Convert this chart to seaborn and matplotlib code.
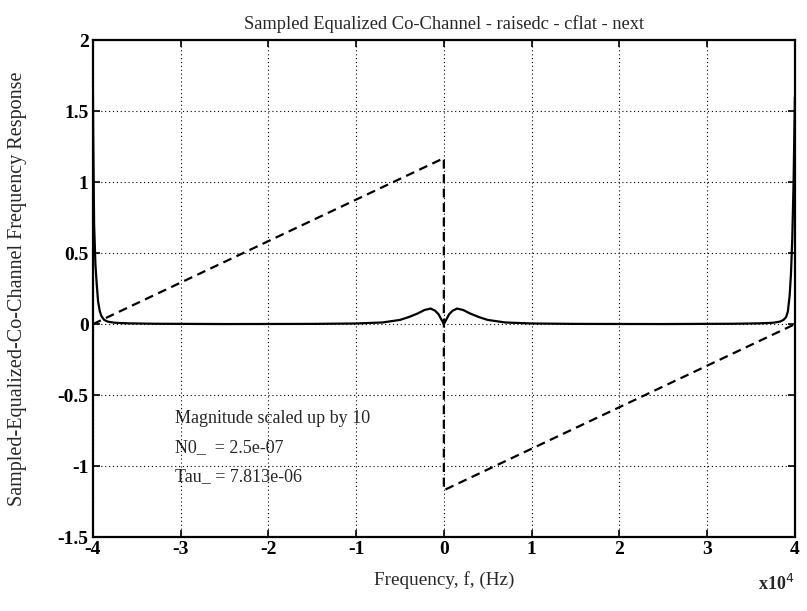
import numpy as np
import pandas as pd
import matplotlib
matplotlib.use("Agg")
import matplotlib.pyplot as plt
import seaborn as sns

# ---- data (frequency in units of 1e4 Hz) ----
mag_freq = [-4.0, -3.995, -3.985, -3.97, -3.955, -3.94, -3.92, -3.9, -3.87, -3.83,
            -3.75, -3.6, -3.3, -2.5, -1.5, -1.0, -0.7, -0.5, -0.4, -0.3, -0.22,
            -0.15, -0.1, -0.06, -0.03, 0.0, 0.03, 0.06, 0.1, 0.15, 0.22, 0.3, 0.4,
            0.5, 0.7, 1.0, 1.5, 2.5, 3.3, 3.6, 3.75, 3.83, 3.87, 3.9, 3.92, 3.94,
            3.955, 3.97, 3.985, 3.995, 4.0]
mag_vals = [1.75, 1.3, 0.7, 0.42, 0.28, 0.16, 0.09, 0.055, 0.03, 0.018,
            0.01, 0.006, 0.003, 0.001, 0.002, 0.005, 0.012, 0.03, 0.05, 0.075, 0.1,
            0.11, 0.095, 0.07, 0.035, 0.0, 0.035, 0.07, 0.095, 0.11, 0.1, 0.075, 0.05,
            0.03, 0.012, 0.005, 0.002, 0.001, 0.003, 0.006, 0.01, 0.018, 0.03, 0.05,
            0.09, 0.2, 0.35, 0.6, 1.0, 1.4, 1.6]
phase_freq = [-4.0, 0.0, 0.0, 4.0]
phase_vals = [0.0, 1.17, -1.17, 0.0]

x_ticks = [-4, -3, -2, -1, 0, 1, 2, 3, 4]
y_ticks = [-1.5, -1, -0.5, 0, 0.5, 1, 1.5, 2]
y_tick_labels = ["-1.5", "-1", "-0.5", "0", "0.5", "1", "1.5", "2"]

title = "Sampled Equalized Co-Channel - raisedc - cflat - next"
xlabel = "Frequency, f, (Hz)"
ylabel = "Sampled-Equalized-Co-Channel Frequency Response"
notes = ["Magnitude scaled up by 10", "N0_  = 2.5e-07", "Tau_ = 7.813e-06"]

sns.set_theme(style="white")
plt.rcParams['font.family'] = ['Liberation Serif', 'DejaVu Serif']

fig = plt.figure(figsize=(8.07, 6.11), dpi=100)
ax = fig.add_axes([0.115, 0.121, 0.870, 0.813])

mag_df = pd.DataFrame({"f": mag_freq, "m": mag_vals})
ph_df = pd.DataFrame({"f": phase_freq, "p": phase_vals})

sns.lineplot(data=mag_df, x="f", y="m", sort=False, estimator=None, ax=ax,
             color="black", linewidth=1.6)
sns.lineplot(data=ph_df, x="f", y="p", sort=False, estimator=None, ax=ax,
             color="black", linewidth=1.6, linestyle=(0, (4, 2.5)))

ax.set_xlim(-4, 4)
ax.set_ylim(-1.5, 2)
ax.set_xticks(x_ticks)
ax.set_xticklabels([str(t) for t in x_ticks])
ax.set_yticks(y_ticks)
ax.set_yticklabels(y_tick_labels)
ax.grid(True, color="black", linestyle=(0, (1, 2.5)), linewidth=0.8)
ax.tick_params(direction="in", length=5, width=1.2, top=True, right=True,
               bottom=True, left=True, labelsize=14, pad=3, colors="black")
for lab in ax.get_xticklabels() + ax.get_yticklabels():
    lab.set_fontweight("bold")
for s in ax.spines.values():
    s.set_color("black")
    s.set_linewidth(1.6)

ax.set_title(title, fontsize=13.3, pad=8)
ax.set_xlabel(xlabel, fontsize=13.8, labelpad=9)
ax.set_ylabel(ylabel, fontsize=14.5, labelpad=22)

for i, t in enumerate(notes):
    ax.text(-3.06, -0.665 - i * 0.205, t, fontsize=13, va="center", ha="left")

fig.text(0.985, 0.045, r"x10$^4$", fontsize=13, fontweight="bold",
         ha="right", va="center")

fig.savefig("out.png", dpi=100)
